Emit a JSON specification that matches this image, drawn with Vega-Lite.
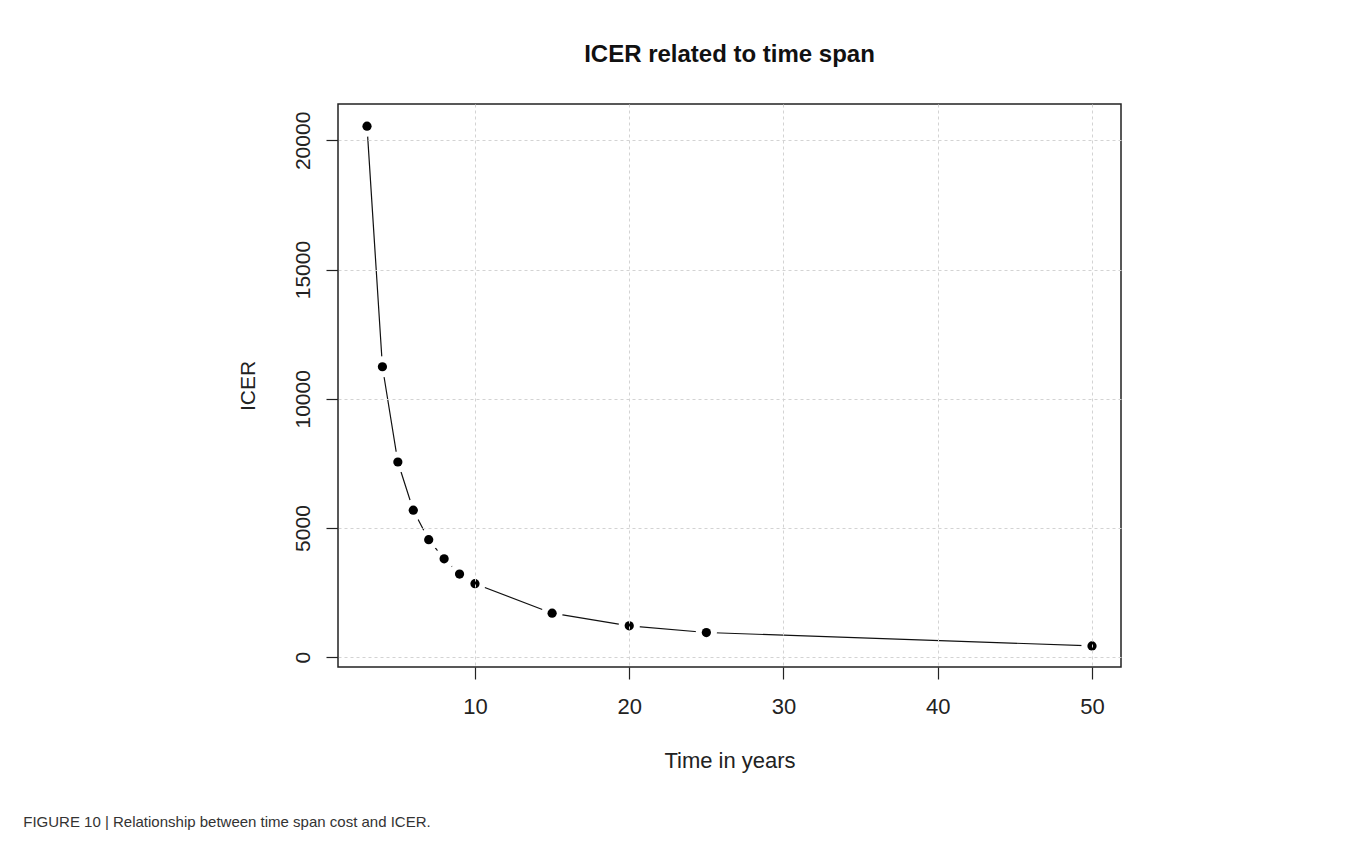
{
  "$schema": "https://vega.github.io/schema/vega-lite/v6.json",
  "background": "white",
  "padding": {"left": 23, "top": 42, "right": 0, "bottom": 0},
  "config": {
    "font": "Liberation Sans",
    "view": {"stroke": "#222", "strokeWidth": 1.5},
    "concat": {"spacing": 0}
  },
  "title": {
    "text": "FIGURE 10 | Relationship between time span cost and ICER.",
    "orient": "bottom",
    "anchor": "start",
    "frame": "bounds",
    "fontSize": 15,
    "fontWeight": "normal",
    "color": "#333",
    "dx": -213,
    "offset": 43
  },
  "vconcat": [
    {
      "title": {
        "text": "ICER related to time span",
        "anchor": "middle",
        "frame": "group",
        "fontSize": 24,
        "fontWeight": "bold",
        "color": "#111",
        "offset": 37
      },
      "width": 783,
      "height": 563,
      "data": {
        "values": [
          {"years": 3, "icer": 20550},
          {"years": 4, "icer": 11240},
          {"years": 5, "icer": 7555},
          {"years": 6, "icer": 5690},
          {"years": 7, "icer": 4550},
          {"years": 8, "icer": 3810},
          {"years": 9, "icer": 3220},
          {"years": 10, "icer": 2845},
          {"years": 15, "icer": 1705},
          {"years": 20, "icer": 1215},
          {"years": 25, "icer": 957},
          {"years": 50, "icer": 440}
        ]
      },
      "encoding": {
        "x": {
          "field": "years",
          "type": "quantitative",
          "scale": {"domain": [1.12, 51.88], "nice": false, "zero": false},
          "axis": {
            "title": "Time in years",
            "values": [10, 20, 30, 40, 50],
            "format": "d",
            "domain": false,
            "tickSize": 12,
            "tickColor": "#222",
            "tickWidth": 1.2,
            "labelPadding": 17,
            "labelFontSize": 22,
            "labelColor": "#222",
            "titleFontSize": 22,
            "titleFontWeight": "normal",
            "titleColor": "#222",
            "titlePadding": 33,
            "grid": true,
            "gridColor": "#d3d3d3",
            "gridDash": [3, 3],
            "gridWidth": 1,
            "zindex": 1
          }
        },
        "y": {
          "field": "icer",
          "type": "quantitative",
          "scale": {"domain": [-377, 21407], "nice": false, "zero": false},
          "axis": {
            "title": "ICER",
            "values": [0, 5000, 10000, 15000, 20000],
            "format": "d",
            "domain": false,
            "tickSize": 12,
            "tickColor": "#222",
            "tickWidth": 1.2,
            "labelAngle": -90,
            "labelAlign": "center",
            "labelBaseline": "alphabetic",
            "labelPadding": 17,
            "labelFontSize": 21,
            "labelColor": "#222",
            "titleFontSize": 21,
            "titleFontWeight": "normal",
            "titleColor": "#222",
            "titlePadding": 34,
            "grid": true,
            "gridColor": "#d3d3d3",
            "gridDash": [3, 3],
            "gridWidth": 1,
            "zindex": 1
          }
        }
      },
      "layer": [
        {"mark": {"type": "line", "color": "#111", "strokeWidth": 1.2}},
        {"mark": {"type": "point", "filled": true, "shape": "circle", "color": "white", "opacity": 1, "size": 450}},
        {"mark": {"type": "point", "filled": true, "shape": "circle", "color": "black", "opacity": 1, "size": 85}}
      ]
    }
  ]
}
